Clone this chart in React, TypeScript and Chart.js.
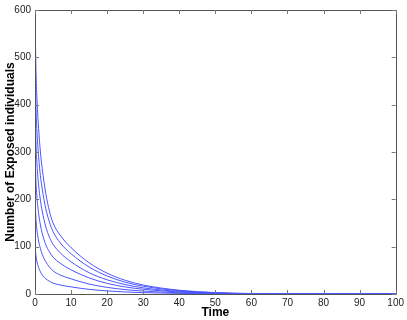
import React, { useEffect, useRef } from "react";
import { Chart, registerables } from "chart.js";

Chart.register(...registerables);

const times = [0, 0.25, 0.5, 1, 1.5, 2, 3, 4, 5, 7, 10, 15, 20, 25, 30, 40, 50, 60, 100];
const curve600 = [600, 480, 420, 350, 300, 265, 212, 175, 150, 124, 98, 66, 44, 29, 19, 8, 3, 1, 0];
const curve500 = [500, 400, 350, 290, 250, 222, 180, 152, 132, 108, 85, 57, 38, 25, 16.5, 7, 2.6, 0.9, 0];
const curve400 = [400, 320, 280, 230, 198, 175, 142, 120, 105, 87, 68, 45, 30, 20, 13, 5.5, 2, 0.7, 0];
const curve300 = [300, 240, 208, 170, 146, 128, 104, 89, 78, 65, 51, 34, 22.5, 15, 10, 4.2, 1.5, 0.5, 0];
const curve200 = [200, 160, 138, 112, 96, 84, 68, 57, 49, 40, 32, 21, 14, 9.3, 6.2, 2.6, 1, 0.3, 0];
const curve100 = [100, 82, 70, 56, 47, 40, 32, 27, 23, 19, 15, 9.8, 6.5, 4.3, 2.9, 1.2, 0.45, 0.15, 0];
const allCurves = [curve600, curve500, curve400, curve300, curve200, curve100];

const xTicks = [0, 10, 20, 30, 40, 50, 60, 70, 80, 90, 100];
const yTicks = [0, 100, 200, 300, 400, 500, 600];

const boxPlugin = {
  id: "matlabBox",
  afterDraw(chart: any) {
    const { ctx, chartArea } = chart;
    const { left, right, top, bottom } = chartArea;
    const xs = chart.scales.x;
    const ys = chart.scales.y;
    ctx.save();
    ctx.strokeStyle = "#555555";
    ctx.lineWidth = 1;
    ctx.beginPath();
    ctx.rect(Math.round(left) + 0.5, Math.round(top) + 0.5, Math.round(right - left), Math.round(bottom - top));
    ctx.stroke();
    ctx.strokeStyle = "#777777";
    ctx.beginPath();
    for (const v of xTicks) {
      const px = Math.round(xs.getPixelForValue(v)) + 0.5;
      ctx.moveTo(px, bottom);
      ctx.lineTo(px, bottom - 4);
      ctx.moveTo(px, top);
      ctx.lineTo(px, top + 4);
    }
    for (const v of yTicks) {
      const py = Math.round(ys.getPixelForValue(v)) + 0.5;
      ctx.moveTo(left, py);
      ctx.lineTo(left + 4, py);
      ctx.moveTo(right, py);
      ctx.lineTo(right - 4, py);
    }
    ctx.stroke();
    ctx.restore();
  },
};

export default function App() {
  const ref = useRef<HTMLCanvasElement>(null);
  useEffect(() => {
    if (!ref.current) return;
    const datasets = allCurves.map((c) => ({
      data: times.map((t, i) => ({ x: t, y: c[i] })),
      borderColor: "#4a55ff",
      borderWidth: 1,
      pointRadius: 0,
      fill: false,
      cubicInterpolationMode: "monotone" as const,
    }));
    const chart = new Chart(ref.current, {
      type: "line",
      data: { datasets },
      plugins: [boxPlugin],
      options: {
        animation: false,
        responsive: false,
        maintainAspectRatio: false,
        layout: { padding: { top: 7, right: 9, left: 3, bottom: 0 } },
        plugins: { legend: { display: false }, tooltip: { enabled: false } },
        scales: {
          x: {
            type: "linear",
            min: 0,
            max: 100,
            afterBuildTicks: (s: any) => {
              s.ticks = xTicks.map((v) => ({ value: v }));
            },
            afterFit: (s: any) => {
              s.height = 26;
            },
            grid: { display: false, drawTicks: false },
            border: { display: false },
            ticks: {
              color: "#222",
              padding: 3,
              maxRotation: 0,
              font: { family: "Liberation Sans, Arial", size: 10 },
            },
            title: {
              display: true,
              text: "Time",
              color: "#000",
              padding: { top: 0, bottom: 0 },
              font: { family: "Liberation Sans, Arial", size: 12, weight: "bold" },
            },
          },
          y: {
            type: "linear",
            min: 0,
            max: 600,
            afterBuildTicks: (s: any) => {
              s.ticks = yTicks.map((v) => ({ value: v }));
            },
            afterFit: (s: any) => {
              s.width = 32;
            },
            grid: { display: false, drawTicks: false },
            border: { display: false },
            ticks: {
              color: "#222",
              padding: 4,
              font: { family: "Liberation Sans, Arial", size: 10 },
            },
            title: {
              display: true,
              text: "Number of Exposed individuals",
              color: "#000",
              padding: { top: 0, bottom: 0 },
              font: { family: "Liberation Sans, Arial", size: 12, weight: "bold" },
            },
          },
        },
      },
    });
    return () => chart.destroy();
  }, []);
  return (
    <div style={{ position: "fixed", left: 0, top: 0, width: 407, height: 320, background: "#fff" }}>
      <canvas ref={ref} width={407} height={320} style={{ width: 407, height: 320 }} />
    </div>
  );
}
